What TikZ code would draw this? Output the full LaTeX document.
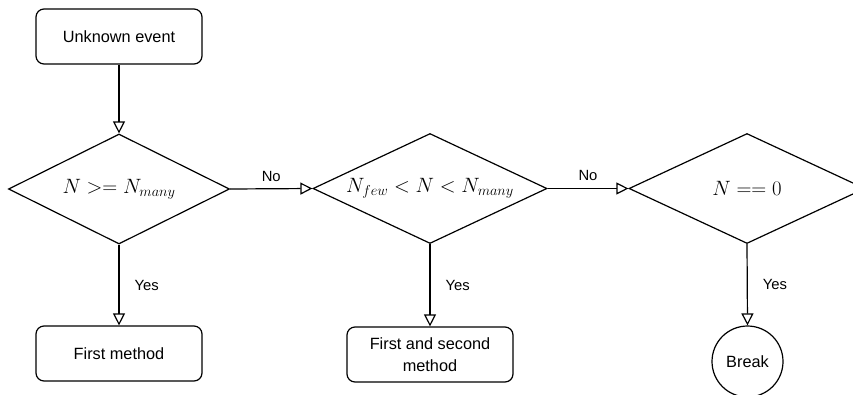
\documentclass[tikz,border=0pt]{standalone}
\usepackage{fontspec}
\setmainfont{Liberation Sans}
\usetikzlibrary{shapes.geometric,arrows.meta}
\begin{document}
\begin{tikzpicture}[x=1pt,y=-1pt,
  every node/.style={font=\fontsize{16.3}{22}\selectfont},
  box/.style={draw, line width=1.2pt, rounded corners=8pt, minimum width=166pt, minimum height=55pt, align=center, inner sep=0pt},
  dia/.style={draw, line width=1.2pt, diamond, aspect=2, inner sep=0pt, minimum width=#1, minimum height=110pt, font=\fontsize{20}{24}\selectfont},
  endc/.style={draw, line width=1.2pt, circle, minimum size=71pt, inner sep=0pt},
  conn/.style={draw, line width=1.2pt, -{Triangle[open, length=12pt, width=12pt]}},
  lbl/.style={font=\fontsize{14.8}{17}\selectfont, inner sep=0pt}]
\useasboundingbox (0,0) rectangle (853,394);
\node[box] (start) at (119,36.5) {Unknown event};
\node[dia=221pt] (d1) at (119,189) {$N >= N_{many}$};
\node[dia=234pt] (d2) at (430,188.5) {$N_{few} < N < N_{many}$};
\node[dia=236pt] (d3) at (747,188.5) {$N == 0$};
\node[box] (m1) at (119,353.5) {First method};
\node[box] (m2) at (430,354.5) {First and second\\method};
\node[endc] (brk) at (747.5,361.5) {Break};
\draw[conn] (start) -- (d1.north);
\draw[conn] (d1.east) -- (d2.west) node[lbl, pos=0.5, above=7pt] {No};
\draw[conn] (d2.east) -- (d3.west) node[lbl, pos=0.5, above=7pt] {No};
\draw[conn] (d1.south) -- (m1.north) node[lbl, pos=0.5, right=15pt] {Yes};
\draw[conn] (d2.south) -- (m2.north) node[lbl, pos=0.5, right=15pt] {Yes};
\draw[conn] (d3.south) -- (brk.north) node[lbl, pos=0.5, right=15pt] {Yes};
\end{tikzpicture}
\end{document}
